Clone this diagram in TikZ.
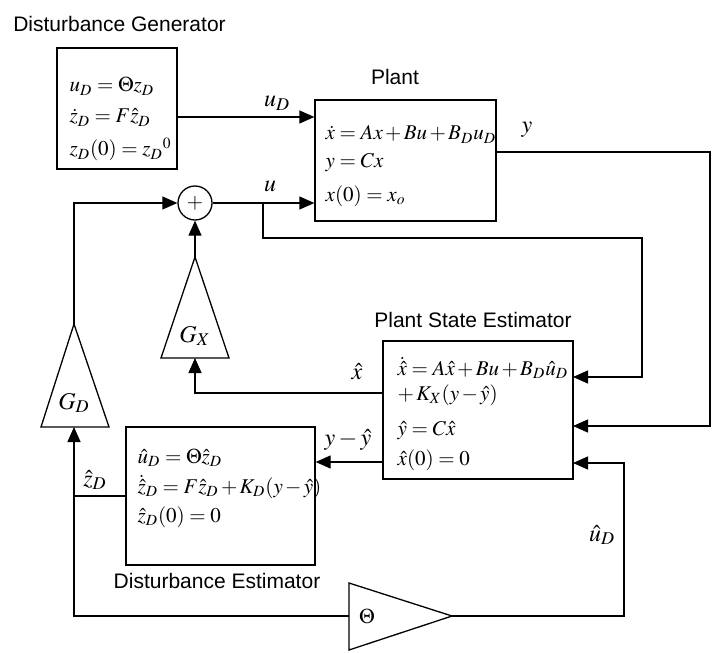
\documentclass[tikz,border=0pt]{standalone}
\usepackage{mathptmx}
\usepackage{fontspec}
\newfontfamily\labelfont{Liberation Sans}
\usetikzlibrary{arrows.meta,positioning}

\begin{document}
\begin{tikzpicture}[
    x=0.5pt, y=-0.5pt,
    line width=0.65pt,
    font=\fontsize{10.5}{12.6}\selectfont,
    block/.style={draw, line width=0.65pt, inner sep=0pt},
    sig/.style={-{Triangle[length=7.5pt, width=6.5pt]}},
    eqn/.style={anchor=base west, inner sep=0pt,
                execute at begin node={\medmuskip=2mu\thickmuskip=4mu}},
    blocktitle/.style={anchor=base, inner sep=0pt, font=\fontsize{10.5}{12.6}\selectfont\labelfont},
    sigtext/.style={inner sep=0pt, font=\fontsize{12}{14}\selectfont},
]
\useasboundingbox (0,0) rectangle (716,652);

% Disturbance generator
\node[block, minimum width=60pt, minimum height=60.5pt] (dg) at (117,108.5) {};
\node[blocktitle] (dgtitle) at (119.5,32) {Disturbance Generator};
\node[eqn] (dg1) at (69,92) {$u_D = \Theta z_D$};
\node[eqn] (dg2) at (69,123) {$\dot z_D = F\hat z_D$};
\node[eqn] (dg3) at (69,156) {$z_D(0) = {z_D}^0$};

% Plant
\node[block, minimum width=90.5pt, minimum height=60.5pt] (plant) at (405.5,160.5) {};
\node[blocktitle] (planttitle) at (395,85) {Plant};
\node[eqn] (pl1) at (325,140) {$\dot x = Ax + Bu + B_D u_D$};
\node[eqn] (pl2) at (325,168) {$y = Cx$};
\node[eqn] (pl3) at (325,201) {$x(0) = x_o$};

% Plant state estimator
\node[block, minimum width=95pt, minimum height=69pt] (pse) at (478,410) {};
\node[blocktitle] (psetitle) at (473,327) {Plant State Estimator};
\node[eqn] (pse1) at (397,375) {$\dot{\hat x} = A\hat x + Bu + B_D \hat u_D$};
\node[eqn] (pse2) at (397,400) {$+\, K_X(y - \hat y)$};
\node[eqn] (pse3) at (397,435) {$\hat y = C\hat x$};
\node[eqn] (pse4) at (397,465) {$\hat x(0) = 0$};

% Disturbance estimator
\node[block, minimum width=94.5pt, minimum height=69pt] (de) at (220.5,496) {};
\node[blocktitle] (detitle) at (217,588) {Disturbance Estimator};
\node[eqn] (de1) at (137,463) {$\hat u_D = \Theta \hat z_D$};
\node[eqn] (de2) at (137,493) {$\dot{\hat z}_D = F\hat z_D + K_D(y - \hat y)$};
\node[eqn] (de3) at (137,522) {$\hat z_D(0) = 0$};

% Summing junction
\node[draw, circle, minimum size=17pt, inner sep=0pt] (sum) at (195,203) {$+$};

% Gains
\coordinate (gdtip) at (74,324);
\coordinate (gdbase) at (74,427);
\draw (gdtip) -- (41,427) -- (109,427) -- cycle;
\node[sigtext] (gdlbl) at (74,403) {$G_D$};

\coordinate (gxtip) at (195,257);
\coordinate (gxbase) at (195,358);
\draw (gxtip) -- (161,358) -- (229,358) -- cycle;
\node[sigtext] (gxlbl) at (195,336) {$G_X$};

\coordinate (thleft) at (349,616);
\coordinate (thtip) at (452,616);
\draw (349,583) -- (thtip) -- (349,650) -- cycle;
\node[inner sep=0pt] (thlbl) at (367,616) {$\Theta$};

% Ports
\coordinate (udout) at (177,117);
\coordinate (ubr) at (263,203);
\coordinate (yout) at (496,152);
\coordinate (uin) at (573,377);
\coordinate (yin) at (573,426);
\coordinate (udhin) at (573,463);
\coordinate (xhout) at (383,393);
\coordinate (eout) at (383,462);
\coordinate (zout) at (126,496);

% Signals
\draw[sig] (udout) -- (udout -| plant.west);
\node[sigtext] (udlbl) at (277,103) {$u_D$};
\draw[sig] (sum.east) -- (sum.east -| plant.west);
\node[sigtext] (ulbl) at (270,186) {$u$};
\draw[sig] (ubr) |- (642,238) |- (uin);
\draw[sig] (yout) -| (710,426) -- (yin);
\node[sigtext] (ylbl) at (527,130) {$y$};
\draw[sig] (thtip) -| (624,463) -- (udhin);
\node[sigtext] (udhlbl) at (602,535) {$\hat u_D$};
\draw[sig] (xhout) -| (gxbase);
\node[sigtext] (xhlbl) at (357,372) {$\hat x$};
\draw[sig] (eout) -- (eout -| de.east);
\node[sigtext] (elbl) at (348,440) {$y - \hat y$};
\draw[sig] (thleft) -| (gdbase);
\draw (zout) -- (zout -| gdbase);
\node[sigtext] (zlbl) at (95,480) {$\hat z_D$};
\draw[sig] (gdtip) |- (sum.west);
\draw[sig] (gxtip) -- (sum.south);

\end{tikzpicture}
\end{document}
